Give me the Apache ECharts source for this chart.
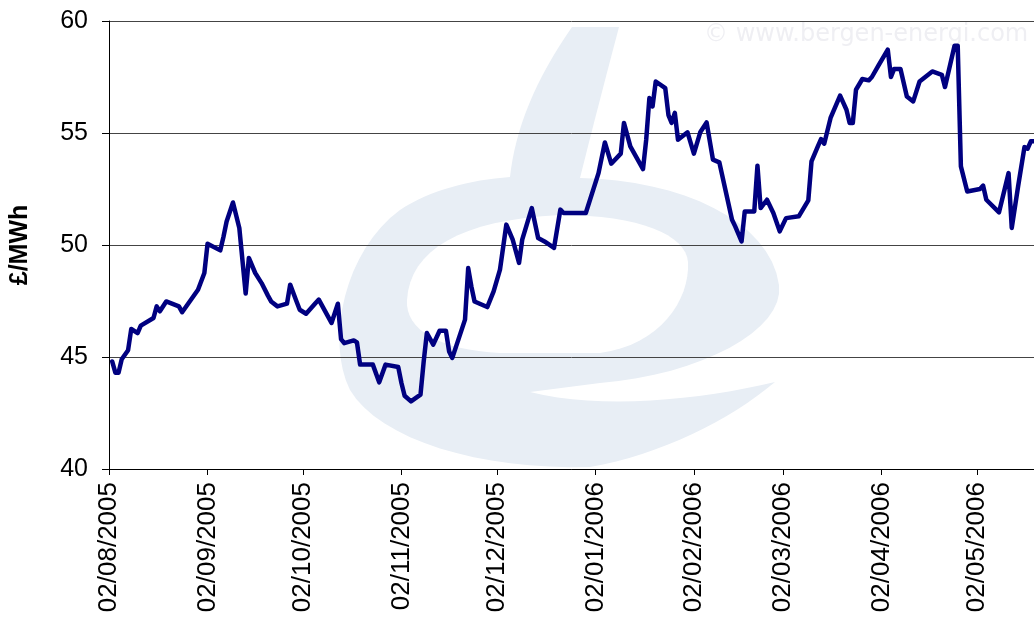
<!DOCTYPE html>
<html>
<head>
<meta charset="utf-8">
<script src="https://cdn.jsdelivr.net/npm/echarts@6/dist/echarts.min.js"></script>
<style>
  html, body { margin: 0; padding: 0; background: #fff; }
  #chart { width: 1034px; height: 621px; }
</style>
</head>
<body>
<div id="chart"></div>
<script>
// price readings (GBP/MWh), dates
const dates = [
  '2005-08-03', '2005-08-04', '2005-08-05', '2005-08-06', '2005-08-08', '2005-08-09', '2005-08-11', '2005-08-12',
  '2005-08-16', '2005-08-17', '2005-08-18', '2005-08-20', '2005-08-24', '2005-08-25', '2005-08-30', '2005-09-01',
  '2005-09-02', '2005-09-06', '2005-09-07', '2005-09-08', '2005-09-10', '2005-09-12', '2005-09-14', '2005-09-15',
  '2005-09-17', '2005-09-19', '2005-09-21', '2005-09-22', '2005-09-24', '2005-09-27', '2005-09-28', '2005-09-30',
  '2005-10-01', '2005-10-03', '2005-10-06', '2005-10-07', '2005-10-11', '2005-10-13', '2005-10-14', '2005-10-15',
  '2005-10-18', '2005-10-19', '2005-10-20', '2005-10-24', '2005-10-26', '2005-10-28', '2005-11-01', '2005-11-02',
  '2005-11-03', '2005-11-05', '2005-11-08', '2005-11-09', '2005-11-10', '2005-11-12', '2005-11-14', '2005-11-16',
  '2005-11-17', '2005-11-18', '2005-11-22', '2005-11-23', '2005-11-24', '2005-11-25', '2005-11-29', '2005-12-01',
  '2005-12-03', '2005-12-05', '2005-12-07', '2005-12-09', '2005-12-10', '2005-12-13', '2005-12-15', '2005-12-17',
  '2005-12-20', '2005-12-22', '2005-12-23', '2005-12-30', '2006-01-03', '2006-01-05', '2006-01-07', '2006-01-10',
  '2006-01-11', '2006-01-13', '2006-01-17', '2006-01-18', '2006-01-19', '2006-01-20', '2006-01-21', '2006-01-24',
  '2006-01-25', '2006-01-26', '2006-01-27', '2006-01-28', '2006-01-31', '2006-02-02', '2006-02-04', '2006-02-06',
  '2006-02-08', '2006-02-10', '2006-02-14', '2006-02-15', '2006-02-17', '2006-02-18', '2006-02-21', '2006-02-22',
  '2006-02-23', '2006-02-25', '2006-02-27', '2006-03-01', '2006-03-03', '2006-03-07', '2006-03-10', '2006-03-11',
  '2006-03-13', '2006-03-14', '2006-03-15', '2006-03-17', '2006-03-20', '2006-03-22', '2006-03-23', '2006-03-24',
  '2006-03-25', '2006-03-27', '2006-03-29', '2006-03-30', '2006-04-01', '2006-04-04', '2006-04-05', '2006-04-06',
  '2006-04-08', '2006-04-10', '2006-04-12', '2006-04-14', '2006-04-18', '2006-04-21', '2006-04-22', '2006-04-25',
  '2006-04-26', '2006-04-27', '2006-04-29', '2006-05-03', '2006-05-04', '2006-05-05', '2006-05-09', '2006-05-12',
  '2006-05-13', '2006-05-15', '2006-05-17', '2006-05-18', '2006-05-19', '2006-05-20'
]
const prices = [
  44.8, 44.3, 44.3, 44.9, 45.3, 46.25, 46.07, 46.4,
  46.74, 47.26, 47.04, 47.48, 47.26, 47.0, 48.0, 48.75,
  50.06, 49.76, 50.36, 51.05, 51.9, 50.76, 47.83, 49.42,
  48.75, 48.3, 47.74, 47.48, 47.26, 47.38, 48.23, 47.48,
  47.11, 46.93, 47.41, 47.56, 46.52, 47.38, 45.8, 45.62,
  45.74, 45.65, 44.66, 44.66, 43.87, 44.66, 44.55, 43.84,
  43.27, 43.02, 43.32, 44.8, 46.07, 45.55, 46.17, 46.17,
  45.25, 44.96, 46.67, 48.97, 48.15, 47.48, 47.23, 47.93,
  48.9, 50.91, 50.24, 49.2, 50.24, 51.65, 50.31, 50.16,
  49.87, 51.58, 51.43, 51.43, 53.21, 54.58, 53.63, 54.08,
  55.45, 54.4, 53.39, 54.7, 56.56, 56.19, 57.3, 57.0,
  55.8, 55.45, 55.9, 54.7, 55.03, 54.08, 55.03, 55.47,
  53.81, 53.69, 51.13, 50.83, 50.16, 51.5, 51.5, 53.54,
  51.65, 52.02, 51.43, 50.61, 51.2, 51.28, 51.99, 53.73,
  54.4, 54.73, 54.52, 55.67, 56.67, 56.04, 55.45, 55.45,
  56.93, 57.41, 57.35, 57.5, 58.0, 58.72, 57.5, 57.86,
  57.86, 56.63, 56.41, 57.3, 57.75, 57.6, 57.05, 58.9,
  58.9, 53.51, 52.39, 52.5, 52.65, 52.02, 51.46, 53.21,
  50.76, 52.62, 54.37, 54.3, 54.63, 54.63
]
// x axis: days counted from the first tick, ticks on the 2nd of each month
const startDate = '2005-08-02'
const endDate = '2006-05-20'
const tickDates = [
  '2005-08-02', '2005-09-02', '2005-10-02', '2005-11-02', '2005-12-02',
  '2006-01-02', '2006-02-02', '2006-03-02', '2006-04-02', '2006-05-02'
]
const yTicks = [40, 45, 50, 55, 60]

const DAY = 86400000
const t0 = Date.parse(startDate + 'T00:00:00Z')
const dayOf = (s) => Math.round((Date.parse(s + 'T00:00:00Z') - t0) / DAY)
const fmtDay = (d) => {
  const dt = new Date(t0 + d * DAY)
  const dd = String(dt.getUTCDate()).padStart(2, '0')
  const mm = String(dt.getUTCMonth() + 1).padStart(2, '0')
  return `${dd}/${mm}/${dt.getUTCFullYear()}`
}

const tickDays = tickDates.map(dayOf)
const points = dates.map((d, i) => [dayOf(d), prices[i]])

const FONT = '"Liberation Sans", Arial, sans-serif'
const WM = '#e8eef5'

// faint "e" logo behind the plot: start point, then [c1, c2, end] cubic segments (or [end] for straight)
const logoOuter = [[572, 27],
  [[619, 27]], [[605, 80], [592, 130], [580, 178]], [[680, 180], [770, 220], [779, 285]],
  [[785, 330], [700, 375], [600, 383]], [[530, 392]], [[600, 410], [700, 400], [775, 382]],
  [[730, 420], [660, 455], [590, 467]], [[480, 470], [380, 440], [350, 390]],
  [[325, 340], [345, 250], [400, 210]], [[430, 190], [470, 180], [510, 177]],
  [[515, 130], [535, 80], [572, 27]]]
const logoHole = [[688, 262],
  [[690, 300], [660, 345], [600, 353]], [[500, 353]], [[440, 350], [405, 330], [407, 300]],
  [[410, 250], [460, 220], [560, 215]], [[640, 215], [686, 235], [688, 262]]]

function outline(spec) {
  const pts = [spec[0]]
  let p = spec[0]
  spec.slice(1).forEach((seg) => {
    if (seg.length === 1) { pts.push(seg[0]); p = seg[0]; return }
    const [c1, c2, e] = seg
    for (let k = 1; k <= 16; k += 1) {
      const t = k / 16, u = 1 - t
      pts.push([
        u * u * u * p[0] + 3 * u * u * t * c1[0] + 3 * u * t * t * c2[0] + t * t * t * e[0],
        u * u * u * p[1] + 3 * u * u * t * c1[1] + 3 * u * t * t * c2[1] + t * t * t * e[1]
      ])
    }
    p = e
  })
  return pts
}

const chart = echarts.init(document.getElementById('chart'), null, { renderer: 'canvas' })
chart.setOption({
  animation: false,
  backgroundColor: '#fff',
  grid: { left: 109, right: 0, top: 21, bottom: 152, containLabel: false },
  graphic: {
    elements: [
      { type: 'polygon', z: -10, silent: true, shape: { points: outline(logoOuter) }, style: { fill: WM } },
      { type: 'polygon', z: -9, silent: true, shape: { points: outline(logoHole) }, style: { fill: '#fff' } },
      {
        type: 'text', z: -9, silent: true,
        left: 704, top: 23,
        style: { text: '\u00a9 www.bergen-energi.com', font: '24px "DejaVu Sans", sans-serif', fill: '#efeff3' }
      }
    ]
  },
  xAxis: {
    type: 'value',
    min: 0,
    max: dayOf(endDate),
    axisLine: { show: true, lineStyle: { color: '#000', width: 1 } },
    axisTick: { show: true, customValues: tickDays, length: 6, lineStyle: { color: '#000' } },
    axisLabel: {
      customValues: tickDays,
      formatter: (v) => fmtDay(v),
      rotate: 90,
      margin: 13,
      color: '#000',
      fontSize: 26,
      fontFamily: FONT
    },
    splitLine: { show: false }
  },
  yAxis: {
    type: 'value',
    min: yTicks[0],
    max: yTicks[yTicks.length - 1],
    interval: 5,
    name: '£/MWh',
    nameLocation: 'middle',
    nameRotate: 90,
    nameGap: 76,
    nameTextStyle: { color: '#000', fontSize: 25, fontWeight: 'bold', fontFamily: FONT },
    axisLine: { show: true, lineStyle: { color: '#000', width: 1 } },
    axisTick: { show: true, length: 7, lineStyle: { color: '#000' } },
    axisLabel: { color: '#000', fontSize: 25, margin: 21, fontFamily: FONT },
    splitLine: { show: true, lineStyle: { color: '#444', width: 1 } }
  },
  series: [{
    name: 'Price',
    type: 'line',
    data: points,
    showSymbol: false,
    clip: true,
    lineStyle: { color: '#000080', width: 4.5, join: 'round', cap: 'round' },
    z: 5
  }]
})
</script>
</body>
</html>
